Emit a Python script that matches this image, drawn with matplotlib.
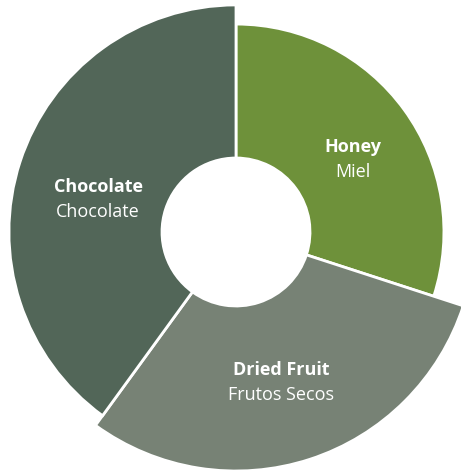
import numpy as np
import matplotlib.pyplot as plt
from matplotlib.patches import Wedge

names = ['Honey', 'Dried Fruit', 'Chocolate']
names_es = ['Miel', 'Frutos Secos', 'Chocolate']
shares = [30, 30, 40]
# outer radius of each slice, relative to the biggest one
radius = [0.87, 1.0, 0.95]
colors = ['#6E913A', '#778275', '#526658']

fig = plt.figure(figsize=(4.61, 4.73), dpi=100)
ax = fig.add_axes([0, 0, 1, 1])
ax.set_xlim(0, 461)
ax.set_ylim(0, 473)
ax.set_aspect('equal')
ax.axis('off')

cx, cy = 236, 241
r_max = 239
r_in = 74

start = 90
for name, es, share, r, c in zip(names, names_es, shares, radius, colors):
    sweep = share / sum(shares) * 360
    end = start - sweep
    w = Wedge((cx, cy), r * r_max, end, start, width=r * r_max - r_in,
              facecolor=c, edgecolor='white', linewidth=2)
    ax.add_patch(w)
    mid = np.radians((start + end) / 2)
    lr = 145
    lx = cx + lr * np.cos(mid)
    ly = cy + lr * np.sin(mid) - 6
    ax.text(lx, ly + 1, name, color='white', fontsize=13, fontweight='bold',
            family='Open Sans', ha='center', va='baseline')
    ax.text(lx, ly - 24, es, color='white', fontsize=13,
            family='Open Sans', ha='center', va='baseline')
    start = end

fig.savefig('out.png', dpi=100)
